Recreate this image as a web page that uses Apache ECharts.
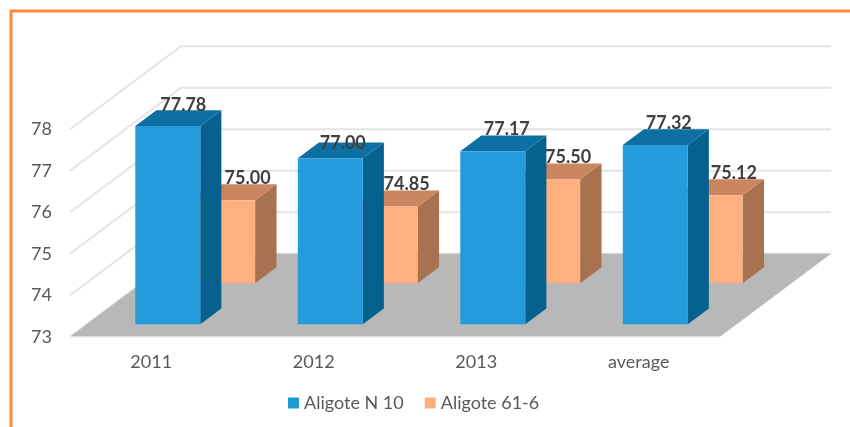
<!DOCTYPE html>
<html><head><meta charset="utf-8">
<style>html,body{margin:0;padding:0;background:#fff}#c{width:850px;height:427px}</style>
<script src="https://cdn.jsdelivr.net/npm/echarts@6/dist/echarts.min.js"></script>
</head><body><div id="c"></div>
<script>
const categories = ['2011', '2012', '2013', 'average'];
const aligoteN10 = [77.78, 77.00, 77.17, 77.32];
const aligote616 = [75.00, 74.85, 75.50, 75.12];
const wallTicks = [73, 74, 75, 76, 77, 78];

// 3D projection layout (pixels for the full depth of the floor)
const DEPTH_X = 111, DEPTH_Y = 83, BASE = 73, BAR_FRAC = 0.4;
// Label nudges relative to a bar's top front edge
const labelDxA = [15.5, 12.5, 14, 13.5], labelDyA = [-21, -15, -21.7, -22];
const labelDxB = [25, 21.5, 20.5, 23.7], labelDyB = [-22, -22.7, -22, -22];

function project(api, i, v, xFrac, z) {
  const c = api.coord([i, v]);
  const band = api.size([1, 0])[0];
  return [c[0] + xFrac * band + z * DEPTH_X, c[1] - z * DEPTH_Y];
}

function barRenderer(z0, z1, front, side, top, dxs, dys) {
  return function (params, api) {
    const i = api.value(0), v = api.value(1), h = BAR_FRAC / 2;
    const P = (val, xf, z) => project(api, i, val, xf, z);
    const poly = (points, fill) => ({ type: 'polygon', shape: { points }, style: { fill } });
    const anchor = P(v, 0, z0);
    return {
      type: 'group',
      children: [
        poly([P(BASE, h, z0), P(BASE, h, z1), P(v, h, z1), P(v, h, z0)], side),
        poly([P(v, -h, z0), P(v, h, z0), P(v, h, z1), P(v, -h, z1)], top),
        poly([P(BASE, -h, z0), P(BASE, h, z0), P(v, h, z0), P(v, -h, z0)], front),
        { type: 'text', z2: 50, style: {
            x: anchor[0] + dxs[i], y: anchor[1] + dys[i], text: v.toFixed(2),
            fill: '#404040', font: 'bold 18px Lato', textAlign: 'center', textVerticalAlign: 'middle' } }
      ]
    };
  };
}

const chart = echarts.init(document.getElementById('c'), null, { renderer: 'canvas' });
chart.setOption({
  animation: false,
  backgroundColor: '#fff',
  graphic: [{ type: 'polyline', silent: true, shape: { points: [[11, 427], [11, 11], [850, 11]] },
              style: { stroke: '#ff8b3e', lineWidth: 3, fill: null } }],
  grid: { left: 70, right: 130, top: 129.2, bottom: 90.3 },
  xAxis: { type: 'category', data: categories, axisLine: { show: false }, axisTick: { show: false },
           axisLabel: { color: '#595959', fontFamily: 'Lato', fontSize: 18, margin: 16 } },
  yAxis: { type: 'value', min: 73, max: 78, interval: 1, splitLine: { show: false },
           axisLine: { show: false }, axisTick: { show: false },
           axisLabel: { color: '#595959', fontFamily: 'Lato', fontSize: 18, margin: 18 } },
  legend: { left: 288, top: 394, padding: 0, icon: 'rect', itemWidth: 11, itemHeight: 11, itemGap: 21,
            data: ['Aligote N 10', 'Aligote 61-6'],
            textStyle: { color: '#595959', fontFamily: 'Lato', fontSize: 18 } },
  series: [
    { type: 'custom', name: 'walls', silent: true, z: 1, encode: { x: 0, y: 1 },
      data: wallTicks.map(t => [0, t]),
      renderItem(params, api) {
        const v = api.value(1), last = categories.length - 1;
        const a = project(api, 0, v, -0.5, 0), b = project(api, 0, v, -0.5, 1), c = project(api, last, v, 0.5, 1);
        return { type: 'polyline', shape: { points: [a, b, c] }, style: { stroke: '#e4e4e4', lineWidth: 2, fill: null } };
      } },
    { type: 'custom', name: 'floor', silent: true, z: 2, encode: { x: 0, y: 1 },
      data: [[0, BASE]],
      renderItem(params, api) {
        const last = categories.length - 1;
        const a = project(api, 0, BASE, -0.5, 0), b = project(api, last, BASE, 0.5, 0);
        const c = project(api, last, BASE, 0.5, 1), d = project(api, 0, BASE, -0.5, 1);
        return { type: 'group', children: [
          { type: 'polygon', shape: { points: [a, b, c, d] }, style: { fill: '#b8b8b8' } },
          { type: 'line', shape: { x1: a[0], y1: a[1], x2: b[0], y2: b[1] }, style: { stroke: '#e4e4e4', lineWidth: 1.5 } }
        ] };
      } },
    { type: 'custom', name: 'Aligote 61-6', z: 3, encode: { x: 0, y: 1 }, itemStyle: { color: '#ffae7c' },
      data: aligote616.map((v, i) => [i, v]),
      renderItem: barRenderer(0.643, 0.836, '#ffb07f', '#a87250', '#c98660', labelDxB, labelDyB) },
    { type: 'custom', name: 'Aligote N 10', z: 4, encode: { x: 0, y: 1 }, itemStyle: { color: '#1e9bd7' },
      data: aligoteN10.map((v, i) => [i, v]),
      renderItem: barRenderer(0.149, 0.339, '#269bdb', '#06618f', '#0e6fa3', labelDxA, labelDyA) }
  ]
});
</script></body></html>
